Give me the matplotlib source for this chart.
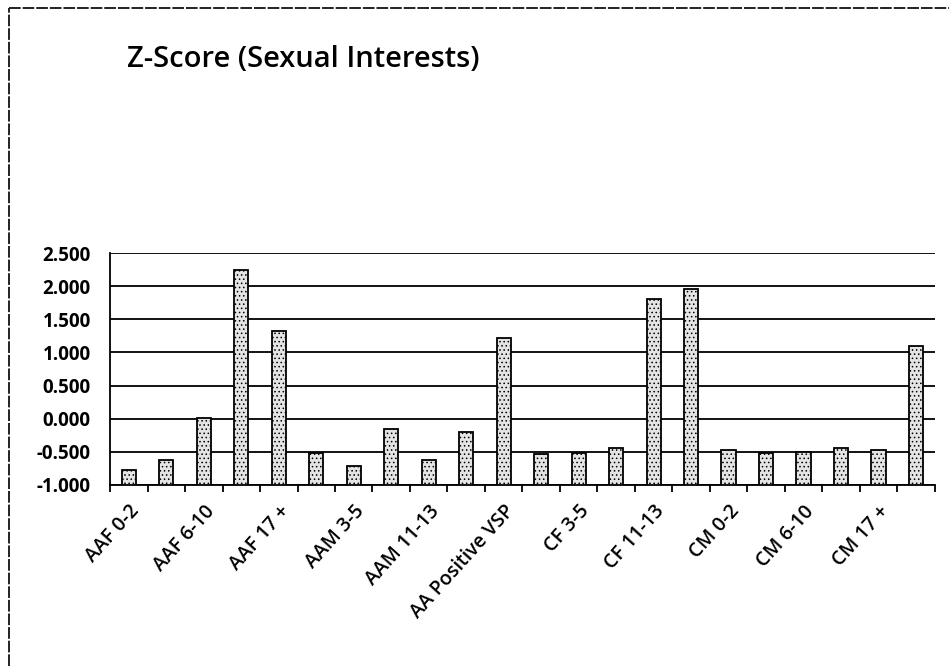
import numpy as np
import matplotlib.pyplot as plt
from matplotlib.lines import Line2D

plt.rcParams['font.family'] = ['Open Sans', 'DejaVu Sans']

# categories (Excel shows only every second label)
categories = ['AAF 0-2', 'AAF 3-5', 'AAF 6-10', 'AAF 11-13', 'AAF 17 +',
              'AAM 0-2', 'AAM 3-5', 'AAM 6-10', 'AAM 11-13', 'AAM 17 +',
              'AA Positive VSP',
              'CF 0-2', 'CF 3-5', 'CF 6-10', 'CF 11-13', 'CF 17 +',
              'CM 0-2', 'CM 3-5', 'CM 6-10', 'CM 11-13', 'CM 17 +',
              'C Positive VSP']
zscores = [-0.77, -0.63, 0.01, 2.25, 1.33,
           -0.52, -0.72, -0.15, -0.63, -0.20,
           1.22,
           -0.54, -0.52, -0.45, 1.81, 1.96,
           -0.48, -0.52, -0.51, -0.44, -0.47,
           1.09]
y_ticks = [-1.0, -0.5, 0.0, 0.5, 1.0, 1.5, 2.0, 2.5]

floor = -1.0
x = np.arange(len(categories))
vals = np.array(zscores)

fig = plt.figure(figsize=(9.49, 6.66), dpi=100)
# chart frame: only top and left edges survive in the scan
fig.lines.append(Line2D([0.009, 0.009], [0.0, 0.988], transform=fig.transFigure,
                        color='#222222', linewidth=1.4, linestyle=(0, (6, 1))))
fig.lines.append(Line2D([0.009, 1.0], [0.988, 0.988], transform=fig.transFigure,
                        color='#222222', linewidth=1.4, linestyle=(0, (6, 1))))

ax = fig.add_axes([0.116, 0.272, 0.869, 0.348])

plt.rcParams['hatch.color'] = '#555555'
plt.rcParams['hatch.linewidth'] = 0.6
ax.bar(x, vals - floor, bottom=floor, width=0.38, color='#e4e4e4', edgecolor='black',
       linewidth=1.3, hatch='....', zorder=3)

ax.set_xlim(-0.5, len(categories) - 0.5)
ax.set_ylim(floor, 2.5)
ax.set_yticks(y_ticks)
ax.set_yticklabels(['{:.3f}'.format(v) for v in y_ticks], fontsize=13.5, fontweight='bold')
ax.yaxis.grid(True, color='black', linewidth=1.3, zorder=1)
ax.tick_params(axis='y', length=0, pad=14)

ax.set_xticks(x[::2])
ax.set_xticklabels(categories[::2], rotation=48, ha='right', rotation_mode='anchor',
                   fontsize=14, fontweight='semibold')
ax.set_xticks(np.arange(len(categories) + 1) - 0.5, minor=True)
ax.tick_params(axis='x', which='major', length=0, pad=12)
ax.tick_params(axis='x', which='minor', length=5, width=1.3, direction='out')

for side in ['top', 'right']:
    ax.spines[side].set_visible(False)
ax.spines['left'].set_linewidth(1.3)
ax.spines['bottom'].set_linewidth(1.3)

fig.text(0.134, 0.899, 'Z-Score (Sexual Interests)', fontsize=21, fontweight='semibold',
         va='baseline')

fig.savefig('out.png', dpi=100)
